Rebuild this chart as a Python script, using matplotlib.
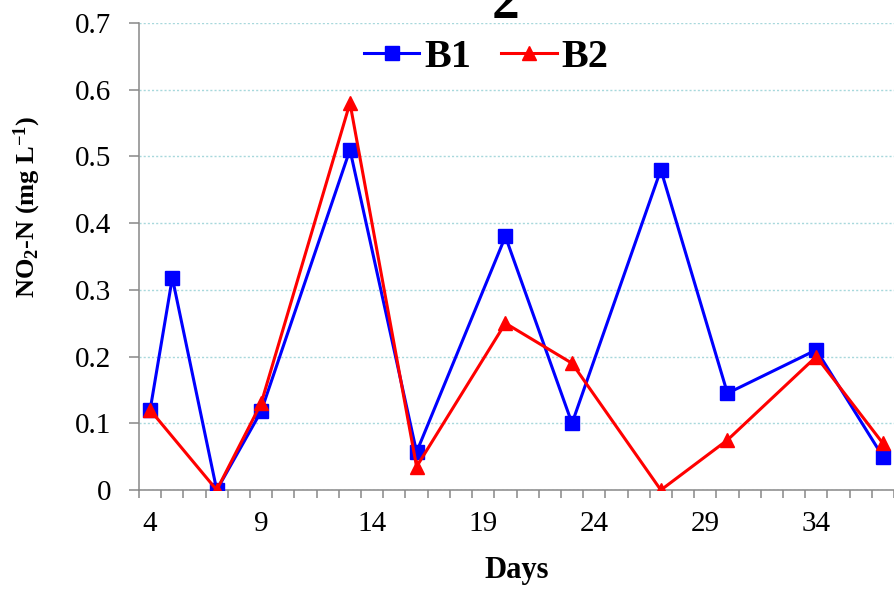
import numpy as np
import matplotlib
matplotlib.use('Agg')
import matplotlib.pyplot as plt

# data
days_b1 = [4, 5, 7, 9, 13, 16, 20, 23, 27, 30, 34, 37]
b1 = [0.12, 0.318, 0.0, 0.118, 0.51, 0.057, 0.38, 0.10, 0.48, 0.145, 0.21, 0.05]
days_b2 = [4, 7, 9, 13, 16, 20, 23, 27, 30, 34, 37]
b2 = [0.12, 0.0, 0.13, 0.58, 0.035, 0.25, 0.19, 0.0, 0.075, 0.20, 0.07]
x_labels = [4, 9, 14, 19, 24, 29, 34]
y_ticks = [0, 0.1, 0.2, 0.3, 0.4, 0.5, 0.6, 0.7]

plt.rcParams['font.family'] = ['Liberation Serif', 'DejaVu Serif']
plt.rcParams['mathtext.default'] = 'regular'

W, H = 894, 589
fig = plt.figure(figsize=(W / 100, H / 100), dpi=100)
ax = fig.add_axes([0.1555, 0.168, 0.8445, 0.793])

ax.plot(days_b1, b1, color='#0000ff', lw=2.2, marker='s', ms=10, label='B1', zorder=3)
ax.plot(days_b2, b2, color='#ff0000', lw=2.2, marker='^', ms=10, label='B2', zorder=4)

ax.set_xlim(3.5, 37.5)
ax.set_ylim(0, 0.7)
ax.set_yticks(y_ticks)
ax.set_yticklabels(['0' if v == 0 else f'{v:.1f}' for v in y_ticks], fontsize=21)
ax.set_xticks(x_labels)
ax.set_xticklabels([str(v) for v in x_labels], fontsize=21)
ax.set_xticks(np.arange(3.5, 38, 1), minor=True)
ax.tick_params(axis='x', which='major', length=0, pad=15)
ax.tick_params(axis='x', which='minor', length=5.8, width=1.1, color='#888888')
ax.tick_params(axis='y', length=7.2, width=1.1, color='#888888', pad=13)

for s in ['top', 'right']:
    ax.spines[s].set_visible(False)
for s in ['left', 'bottom']:
    ax.spines[s].set_color('#888888')
    ax.spines[s].set_linewidth(1.1)

ax.yaxis.grid(True, linestyle=(0, (1.5, 1.5)), color='#a8d8dc', lw=1)
ax.set_axisbelow(True)

ax.set_xlabel('Days', fontsize=22, fontweight='bold', labelpad=14)
ax.set_ylabel('NO$_2$-N (mg L$^{-1}$)', fontsize=19, fontweight='bold')
ax.yaxis.set_label_coords(-0.127, 0.606)

# title, mostly cut off at the top edge as in the reference
fig.text(380 / W, 1 + 1 / H, 'NO', fontsize=58, fontweight='bold', ha='left', va='baseline')
fig.text(492 / W, 1 - 18 / H, '2', fontsize=40, fontweight='bold', ha='left', va='baseline')
fig.text(520 / W, 1 + 1 / H, '-N', fontsize=58, fontweight='bold', ha='left', va='baseline')

ax.legend(loc='center', bbox_to_anchor=(0.544, 0.903), bbox_transform=fig.transFigure,
          ncol=2, frameon=False, prop={'size': 29, 'weight': 'bold'},
          handlelength=1.37, handletextpad=0.12, columnspacing=0.75)

fig.savefig('out.png', dpi=100)
